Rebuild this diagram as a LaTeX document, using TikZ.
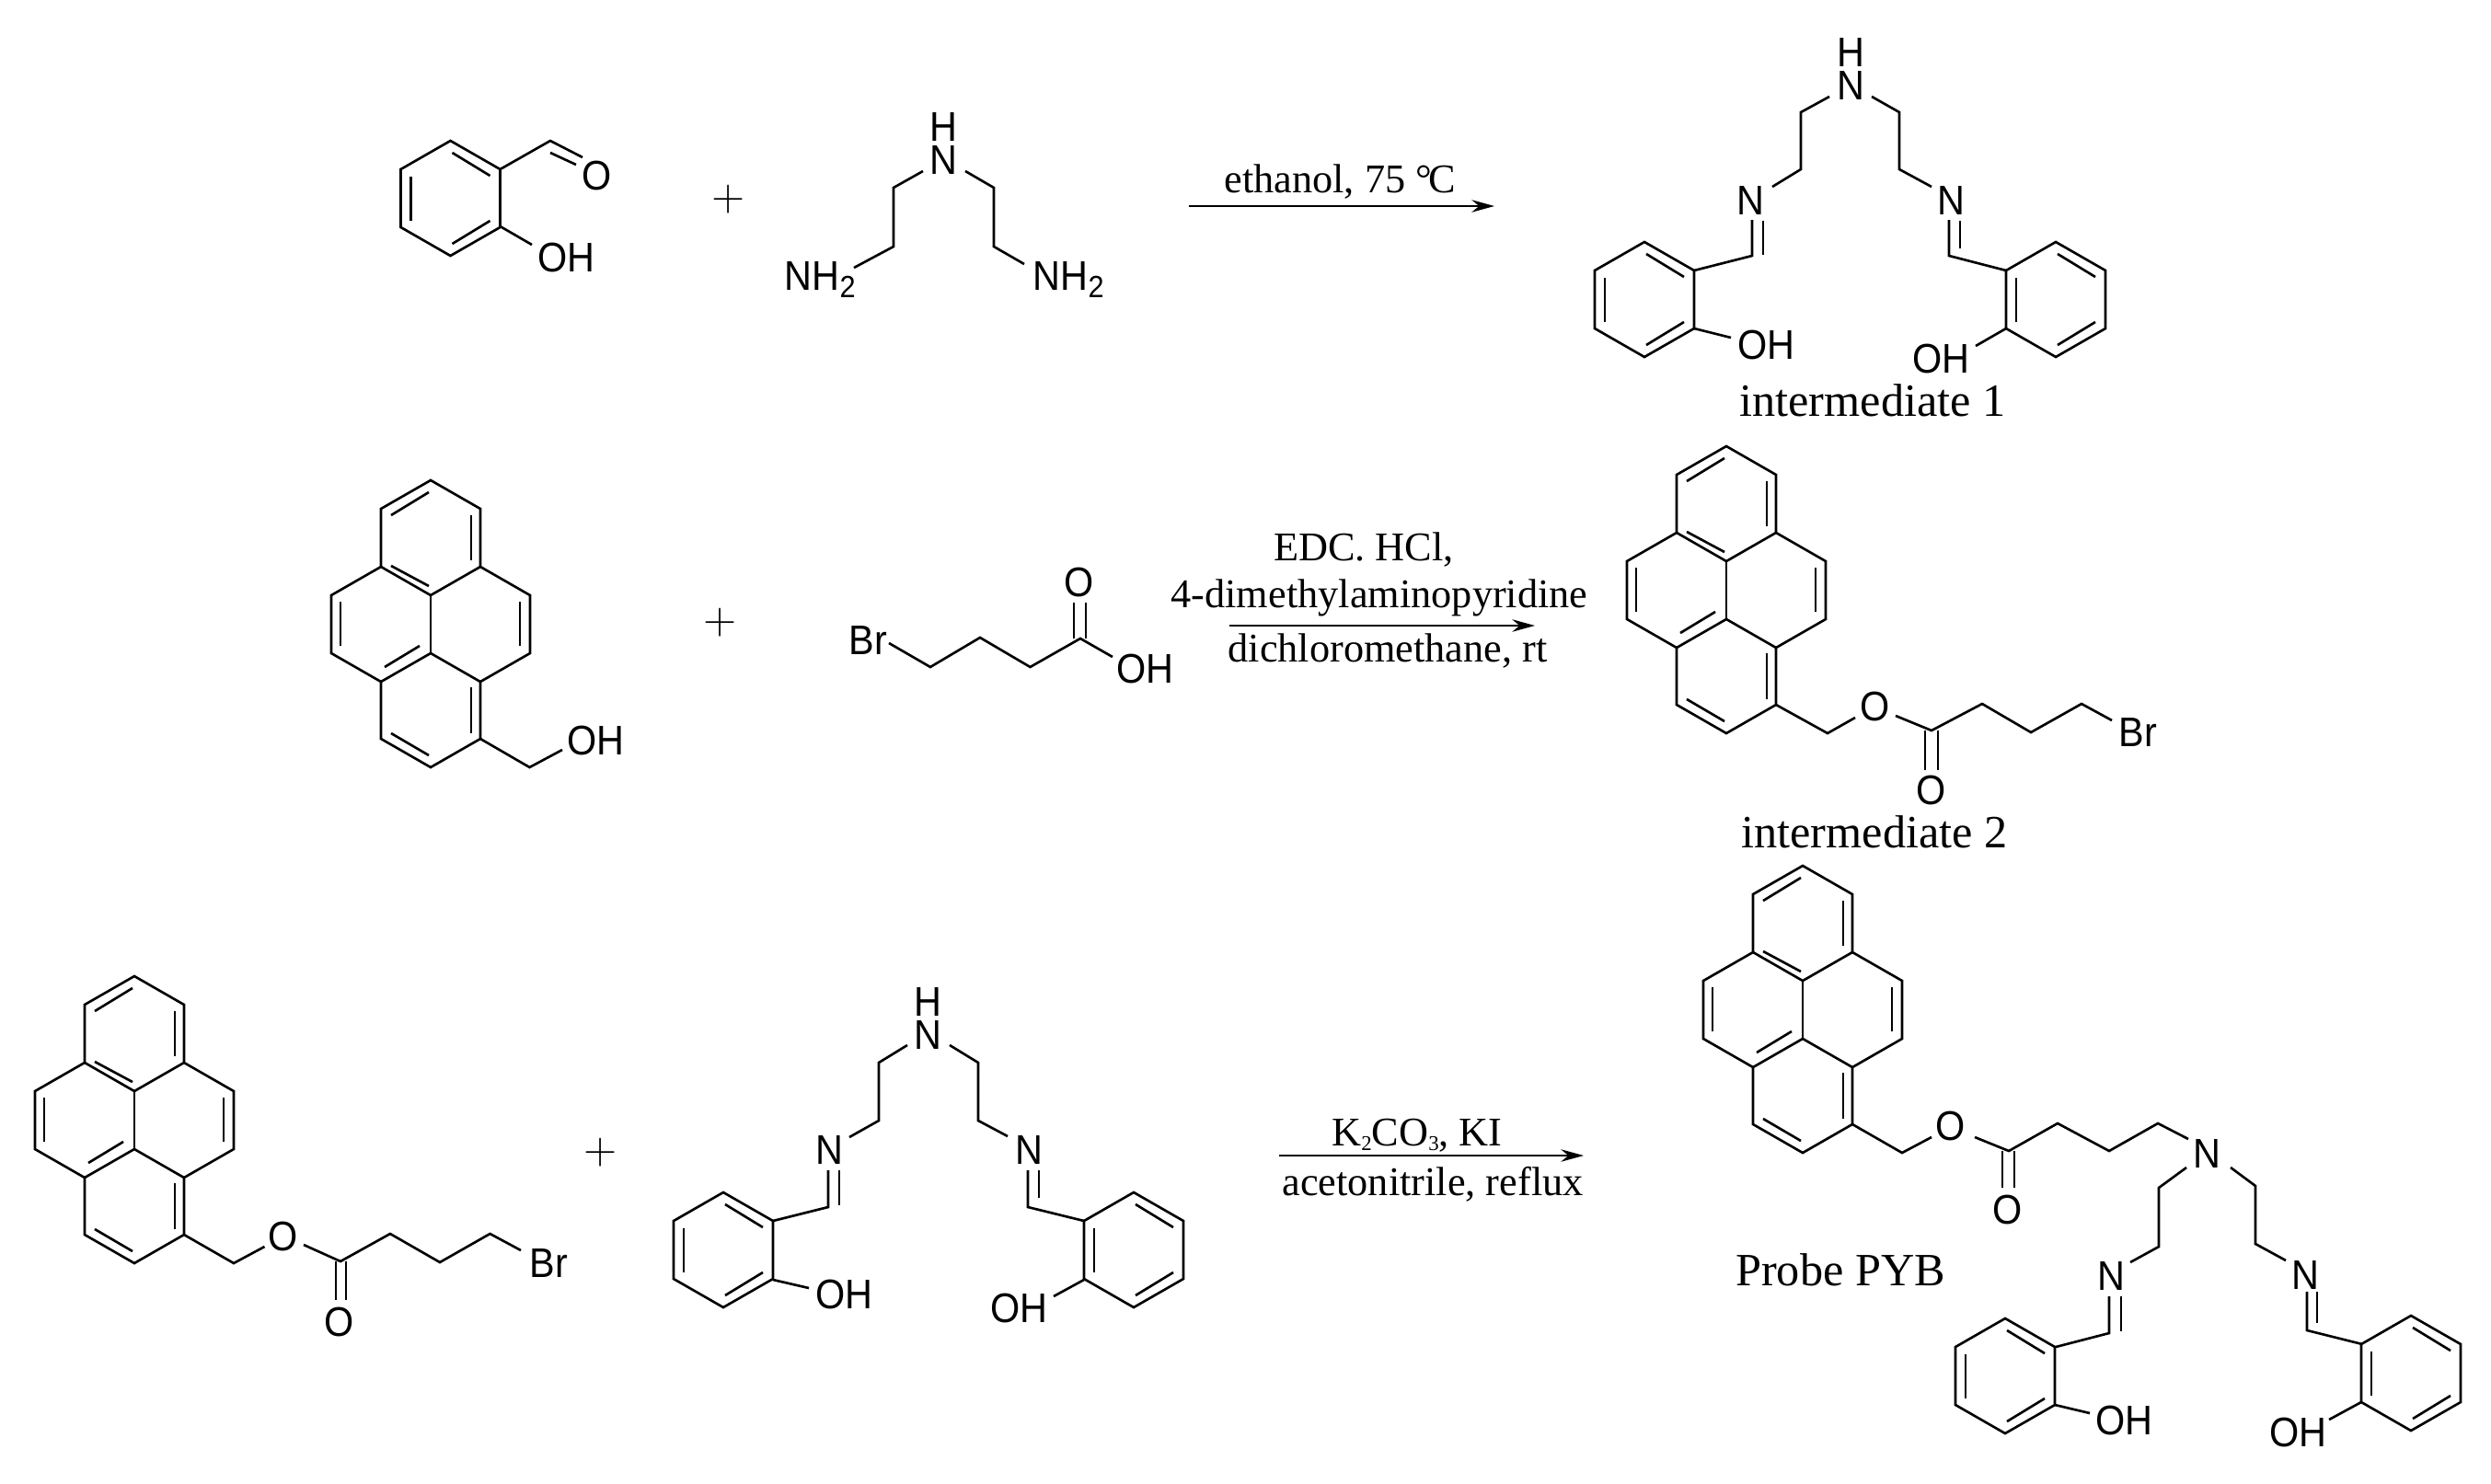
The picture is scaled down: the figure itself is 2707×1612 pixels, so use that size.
\documentclass[tikz,border=0pt]{standalone}
\usepackage{fontspec}
\setmainfont{Liberation Serif}
\newfontfamily\atomfont[FakeStretch=0.92]{Liberation Sans}
\usetikzlibrary{arrows.meta}
\newcommand{\atomsub}[1]{\raisebox{-2.3pt}{\fontsize{9.5}{9.5}\selectfont #1}}
\newcommand{\condsub}[1]{\raisebox{-1.5pt}{\fontsize{6.5}{6.5}\selectfont #1}}

\begin{document}
\begin{tikzpicture}[
  x=0.01cm, y=-0.01cm,
  bond/.style={line width=0.75pt},
  atom/.style={inner sep=0pt, font=\atomfont\fontsize{12.8}{10.2}\selectfont},
  atomtext/.style={atom, anchor=base west},
  atomstack/.style={atom, align=center},
  caption/.style={inner sep=0pt, anchor=base, font=\fontsize{14.3}{14.3}\selectfont},
  condition/.style={inner sep=0pt, anchor=base, font=\fontsize{12.6}{12.6}\selectfont},
  addsign/.style={inner sep=0pt, font=\fontsize{13.5}{13.5}\usefont{TU}{lmr}{m}{n}},
  reaction/.style={line width=0.75pt, -{Stealth[length=7pt,width=3.8pt]}},
  phenol/.pic={
    \draw[bond] (0,0) -- (54,31) -- (54,94) -- (0,125) -- (-54,94) -- (-54,31) -- cycle;
    \draw[bond] (2,13) -- (43,38);
    \draw[bond] (-43,39) -- (-43,87);
    \draw[bond] (43,87) -- (2,112);
  },
  pyrene/.pic={
    % Outer rim of the four rings
    \draw[bond] (0,0) -- (54,31) -- (54,94) -- (108,125) -- (108,188) -- (54,219)
      -- (54,281) -- (0,312) -- (-54,281) -- (-54,219) -- (-108,188) -- (-108,125)
      -- (-54,94) -- (-54,31) -- cycle;
    % Inner bonds
    \draw[bond] (-54,94) -- (0,125) -- (54,94);
    \draw[bond] (0,125) -- (0,188);
    \draw[bond] (-54,219) -- (0,188) -- (54,219);
    % Second lines of the double bonds
    \draw[bond] (-43,38) -- (-2,13);
    \draw[bond] (44,38) -- (44,87);
    \draw[bond] (-43,93) -- (-2,115);
    \draw[bond] (-98,132) -- (-98,180);
    \draw[bond] (97,132) -- (97,180);
    \draw[bond] (-12,180) -- (-50,203);
    \draw[bond] (44,225) -- (44,275);
    \draw[bond] (-43,275) -- (-2,299);
  }
]
  \useasboundingbox (0,0) rectangle (2707,1612);

  % Salicylaldehyde
  \pic at (489.5,153) {phenol};
  \draw[bond] (543.5,184) -- (598,153) -- (633,171);
  \draw[bond] (598,166) -- (626,179);
  \draw[bond] (543.5,246) -- (578,266);
  \node[atom] (aldehydeO) at (649,191) {O};
  \node[atomtext] (aldehydeOH) at (584,295) {OH};

  \node[addsign] (plusA) at (792,217) {+};

  % Triamine
  \draw[bond] (1003,186) -- (971,204) -- (971,268) -- (928,291);
  \draw[bond] (1049,186) -- (1080,204) -- (1080,268) -- (1113,287);
  \node[atomstack] (amineNH) at (1025,156) {H\\N};
  \node[atomtext] (amineLeft) at (852,315) {NH\atomsub{2}};
  \node[atomtext] (amineRight) at (1122,315) {NH\atomsub{2}};

  % First reaction arrow
  \coordinate (arrowAstart) at (1292,224);
  \coordinate (arrowAend) at (1624,224);
  \draw[reaction] (arrowAstart) -- (arrowAend);
  \node[condition] (condA) at (1456,209) {ethanol, 75 °\kern-1.2pt C};

  % Intermediate 1
  \draw[bond] (1988,105) -- (1957,122) -- (1957,184) -- (1926,203);
  \draw[bond] (2034,105) -- (2064,122) -- (2064,184) -- (2099,203);
  \node[atomstack] (interNH) at (2011,75) {H\\N};
  \node[atom] (interNleft) at (1902,218) {N};
  \node[atom] (interNright) at (2120,218) {N};
  \draw[bond] (1904,239) -- (1904,278) -- (1841,294);
  \draw[bond] (1916,240) -- (1916,277);
  \draw[bond] (2118,239) -- (2118,278) -- (2180,294);
  \draw[bond] (2130,240) -- (2130,270);
  \pic at (1787,263) {phenol};
  \pic at (2234,263) {phenol};
  \draw[bond] (1841,357) -- (1881,367);
  \draw[bond] (2180,357) -- (2147,376);
  \node[atomtext] (interOHleft) at (1888,390) {OH};
  \node[atomtext] (interOHright) at (2078,405) {OH};
  \node[caption] (captionA) at (2035,452) {intermediate 1};

  % Pyrenemethanol
  \pic at (468,522) {pyrene};
  \draw[bond] (522,803) -- (575.5,834) -- (611,815);
  \node[atomtext] (alcoholOH) at (616,820) {OH};

  \node[addsign] (plusB) at (783,677) {+};

  % Bromobutyric acid
  \draw[bond] (966,699) -- (1011,725) -- (1065,693) -- (1119.5,725) -- (1174,694) -- (1209,714);
  \draw[bond] (1167,694) -- (1167,655);
  \draw[bond] (1180,694) -- (1180,655);
  \node[atom] (acidO) at (1173,633) {O};
  \node[atomtext] (acidBr) at (922,711) {Br};
  \node[atomtext] (acidOH) at (1213,742) {OH};

  % Second reaction arrow
  \coordinate (arrowBstart) at (1336,680);
  \coordinate (arrowBend) at (1668,680);
  \draw[reaction] (arrowBstart) -- (arrowBend);
  \node[condition] (condBa) at (1482,609) {EDC. HCl,};
  \node[condition] (condBb) at (1499,660) {4-dimethylaminopyridine};
  \node[condition] (condBc) at (1508,719) {dichloromethane, rt};

  % Intermediate 2
  \pic at (1876,485) {pyrene};
  \draw[bond] (1930,766) -- (1986,797) -- (2016,780);
  \draw[bond] (2060,778) -- (2099,794) -- (2154,765) -- (2207,796) -- (2262,765) -- (2295,783);
  \draw[bond] (2092,794) -- (2092,837);
  \draw[bond] (2106,794) -- (2106,837);
  \node[atom] (esterO) at (2038,768) {O};
  \node[atom] (carbonylO) at (2098.5,859) {O};
  \node[atomtext] (esterBr) at (2302,811) {Br};
  \node[caption] (captionB) at (2037,921) {intermediate 2};

  % Intermediate 2 as reagent
  \pic at (146,1061) {pyrene};
  \draw[bond] (200,1342) -- (254,1373) -- (287.5,1355);
  \draw[bond] (330,1353) -- (370,1371) -- (424,1341) -- (478,1372) -- (532.5,1341) -- (566,1359);
  \draw[bond] (365,1371) -- (365,1413);
  \draw[bond] (376,1371) -- (376,1413);
  \node[atom] (reagentO) at (308,1344) {O};
  \node[atom] (reagentCO) at (369,1437) {O};
  \node[atomtext] (reagentBr) at (575,1388) {Br};

  \node[addsign] (plusC) at (653,1253) {+};

  % Intermediate 1 as reagent
  \draw[bond] (986,1136) -- (955,1155) -- (955,1218) -- (923,1236);
  \draw[bond] (1032,1136) -- (1063,1155) -- (1063,1218) -- (1095,1235);
  \node[atomstack] (reagentNH) at (1008,1107) {H\\N};
  \node[atom] (reagentNleft) at (901,1250) {N};
  \node[atom] (reagentNright) at (1118,1250) {N};
  \draw[bond] (900,1272) -- (900,1312) -- (840,1327);
  \draw[bond] (912,1272) -- (912,1310);
  \draw[bond] (1117,1272) -- (1117,1312) -- (1178,1327);
  \draw[bond] (1129,1272) -- (1129,1302);
  \pic at (786,1296) {phenol};
  \pic at (1232,1296) {phenol};
  \draw[bond] (840,1391) -- (879,1400);
  \draw[bond] (1178,1391) -- (1145,1409);
  \node[atomtext] (reagentOHleft) at (886,1422) {OH};
  \node[atomtext] (reagentOHright) at (1076,1437) {OH};

  % Third reaction arrow
  \coordinate (arrowCstart) at (1390,1256);
  \coordinate (arrowCend) at (1721,1256);
  \draw[reaction] (arrowCstart) -- (arrowCend);
  \node[condition] (condCa) at (1540,1245) {K\condsub{2}CO\condsub{3}, KI};
  \node[condition] (condCb) at (1557,1299) {acetonitrile, reflux};

  % Probe PYB
  \pic at (1959,941) {pyrene};
  \draw[bond] (2013,1222) -- (2067,1253) -- (2099,1236);
  \draw[bond] (2146,1236) -- (2183,1251) -- (2236,1221) -- (2292,1251) -- (2345,1221) -- (2378,1238);
  \draw[bond] (2176,1251) -- (2176,1291);
  \draw[bond] (2189,1251) -- (2189,1291);
  \node[atom] (probeO) at (2120,1224) {O};
  \node[atom] (probeCO) at (2182,1315) {O};
  \node[atom] (probeN) at (2398,1254) {N};
  \draw[bond] (2376,1269) -- (2346,1291) -- (2346,1355) -- (2315,1372);
  \draw[bond] (2424,1269) -- (2451,1289) -- (2451,1352) -- (2484,1370);
  \node[atom] (probeNleft) at (2294,1387) {N};
  \node[atom] (probeNright) at (2505,1386) {N};
  \draw[bond] (2292,1409) -- (2292,1449) -- (2234,1464);
  \draw[bond] (2305,1409) -- (2305,1447);
  \draw[bond] (2507,1404) -- (2507,1446) -- (2567,1461);
  \draw[bond] (2518,1404) -- (2518,1438);
  \pic at (2179,1433) {phenol};
  \pic at (2620,1430) {phenol};
  \draw[bond] (2233,1527) -- (2271,1536);
  \draw[bond] (2566,1524) -- (2531,1543);
  \node[atomtext] (probeOHleft) at (2277,1559) {OH};
  \node[atomtext] (probeOHright) at (2466,1572) {OH};
  \node[caption] (captionC) at (2000,1397) {Probe PYB};

\end{tikzpicture}
\end{document}
